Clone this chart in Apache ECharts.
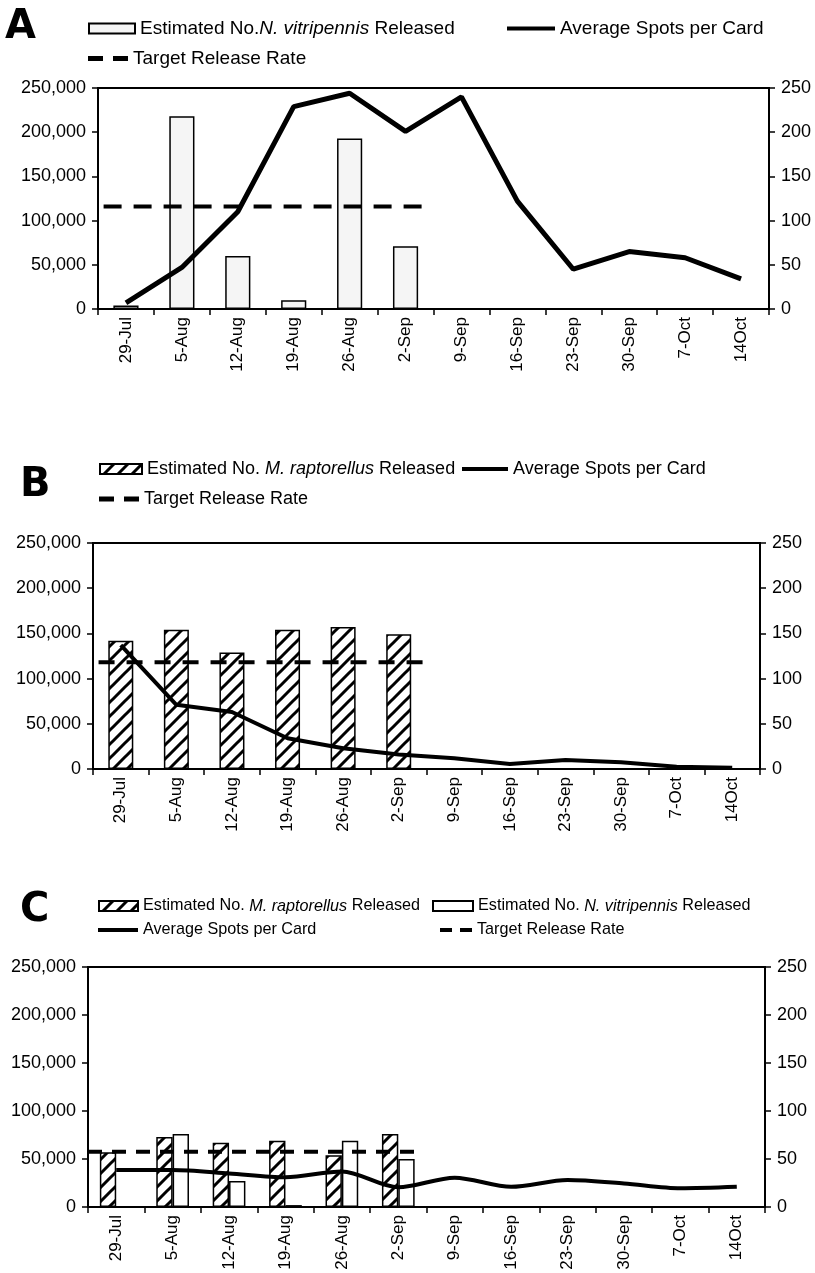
<!DOCTYPE html>
<html><head><meta charset="utf-8">
<script src="https://cdn.jsdelivr.net/npm/echarts@6/dist/echarts.min.js"></script>
<style>html,body{margin:0;padding:0;background:#fff}#c{width:815px;height:1273px}</style>
</head><body><div id="c"></div>
<script>
// ---- data ----
const categories = ['29-Jul','5-Aug','12-Aug','19-Aug','26-Aug','2-Sep','9-Sep','16-Sep','23-Sep','30-Sep','7-Oct','14Oct'];
const leftTicks = [0, 50000, 100000, 150000, 200000, 250000];
const rightTicks = [0, 50, 100, 150, 200, 250];

// Panel A
const nvReleasedA = [4000, 218000, 60000, 10000, 193000, 71000, null, null, null, null, null, null];
const spotsA = [7, 47, 110, 229, 244, 201, 240, 122, 45, 65, 58, 34];
const targetA = 116000;
const targetSpanA = [0.1, 5.9];

// Panel B
const mrReleasedB = [142000, 154000, 129000, 154000, 157000, 149000, null, null, null, null, null, null];
const spotsB = [137, 71, 63, 34, 23, 16, 12, 5.5, 10, 7.5, 2.5, 1.5];
const targetB = 118000;
const targetSpanB = [0.1, 6.1];

// Panel C
const mrReleasedC = [57000, 73000, 67000, 69000, 54000, 76000, null, null, null, null, null, null];
const nvReleasedC = [0, 76000, 27000, 2000, 69000, 50000, null, null, null, null, null, null];
const spotsC = [38.5, 38.5, 35, 31, 37, 20.5, 30.5, 21, 28, 24.5, 19.5, 21];
const targetC = 57600;
const targetSpanC = [0, 5.9];

const labels = {
  nvA: 'Estimated No.{i|N. vitripennis} Released',
  spotsA: 'Average Spots per Card',
  targetA: 'Target Release Rate',
  mrB: 'Estimated No. {i|M. raptorellus} Released',
  spotsB: 'Average Spots per Card',
  targetB: 'Target Release Rate',
  mrC: 'Estimated No. {i|M. raptorellus} Released',
  nvC: 'Estimated No. {i|N. vitripennis} Released',
  spotsC: 'Average Spots per Card',
  targetC: 'Target Release Rate'
};

// ---- styling ----
const FONT = "'Liberation Sans', Arial, sans-serif";
function hatchPattern() {
  const s = 14;
  const c = document.createElement('canvas');
  c.width = s; c.height = s;
  const g = c.getContext('2d');
  g.fillStyle = '#fff'; g.fillRect(0, 0, s, s);
  g.strokeStyle = '#000'; g.lineWidth = 3;
  g.beginPath();
  g.moveTo(-2, s + 2); g.lineTo(s + 2, -2);
  g.moveTo(-s / 2 - 2, s / 2 + 2); g.lineTo(s / 2 + 2, -s / 2 - 2);
  g.moveTo(s / 2 - 2, s * 1.5 + 2); g.lineTo(s * 1.5 + 2, s / 2 - 2);
  g.stroke();
  return { image: c, repeat: 'repeat' };
}
const HATCH = hatchPattern();

const grids = [
  { left: 98, right: 46, top: 88, height: 221 },
  { left: 93, right: 55, top: 543, height: 226 },
  { left: 88, right: 50, top: 967, height: 240 }
];
const axisFont = [18, 18, 18];
const catFont = [17, 17, 17];

const xAxis = [], yAxis = [];
grids.forEach((g, i) => {
  xAxis.push({
    type: 'category', gridIndex: i, data: categories,
    axisLine: { lineStyle: { color: '#000', width: 2 } },
    axisTick: { show: true, length: 6, lineStyle: { color: '#000', width: 1.5 } },
    axisLabel: { rotate: 90, interval: 0, fontSize: catFont[i], color: '#000', fontFamily: FONT, margin: 8 },
    splitLine: { show: false }
  });
  xAxis.push({ type: 'value', gridIndex: i, min: 0, max: categories.length, show: false });
  yAxis.push({
    type: 'value', gridIndex: i, position: 'left',
    min: leftTicks[0], max: leftTicks[leftTicks.length - 1], interval: leftTicks[1] - leftTicks[0],
    axisLine: { show: true, lineStyle: { color: '#000', width: 2 } },
    axisTick: { show: true, length: 6, lineStyle: { color: '#000', width: 1.5 } },
    axisLabel: { fontSize: axisFont[i], color: '#000', fontFamily: FONT, margin: 12,
      formatter: v => v.toLocaleString('en-US') },
    splitLine: { show: false }
  });
  yAxis.push({
    type: 'value', gridIndex: i, position: 'right',
    min: rightTicks[0], max: rightTicks[rightTicks.length - 1], interval: rightTicks[1] - rightTicks[0],
    axisLine: { show: true, lineStyle: { color: '#000', width: 2 } },
    axisTick: { show: true, length: 6, lineStyle: { color: '#000', width: 1.5 } },
    axisLabel: { fontSize: axisFont[i], color: '#000', fontFamily: FONT, margin: 12 },
    splitLine: { show: false }
  });
});

function lineSeries(name, gi, data, width, smooth) {
  return { name, type: 'line', xAxisIndex: gi * 2, yAxisIndex: gi * 2 + 1, data,
    symbol: 'none', smooth: smooth || false, z: 5,
    itemStyle: { color: '#000' }, lineStyle: { color: '#000', width } };
}
function targetSeries(name, gi, value, span, dash, width) {
  return { name, type: 'line', xAxisIndex: gi * 2 + 1, yAxisIndex: gi * 2,
    data: span.map(x => [x, value]), symbol: 'none', z: 6,
    itemStyle: { color: '#000' }, lineStyle: { color: '#000', width, type: dash } };
}
function barSeries(name, gi, data, color, width, gap) {
  return { name, type: 'bar', xAxisIndex: gi * 2, yAxisIndex: gi * 2, data,
    barWidth: width, barGap: gap || '0%', z: 2,
    itemStyle: { color, borderColor: '#000', borderWidth: 1.5 } };
}

const series = [
  barSeries('nvA', 0, nvReleasedA, '#f5f5f5', '45%'),
  lineSeries('spotsA', 0, spotsA, 5),
  targetSeries('targetA', 0, targetA, targetSpanA, [18, 12], 4),
  barSeries('mrB', 1, mrReleasedB, HATCH, '45%'),
  lineSeries('spotsB', 1, spotsB, 4),
  targetSeries('targetB', 1, targetB, targetSpanB, [16, 12], 4),
  barSeries('mrC', 2, mrReleasedC, HATCH, '29%'),
  barSeries('nvC', 2, nvReleasedC, '#ffffff', '29%'),
  lineSeries('spotsC', 2, spotsC, 4, 0.3),
  targetSeries('targetC', 2, targetC, targetSpanC, [14, 10], 4)
];

function legendText(size) {
  return { fontSize: size, color: '#000', fontFamily: FONT,
    rich: { i: { fontSize: size, fontStyle: 'italic', color: '#000', fontFamily: FONT } } };
}
function lg(name, left, top, kind, size, iw) {
  const o = { data: [name], left, top, padding: 0, selectedMode: false,
    formatter: n => labels[n], textStyle: legendText(size) };
  if (kind === 'bar') { o.icon = 'rect'; o.itemWidth = iw || 46; o.itemHeight = 10; }
  else if (kind === 'line') { o.icon = 'rect'; o.itemWidth = iw || 48; o.itemHeight = 4; }
  else { o.icon = 'path://M0,0H15V5H0Z M25,0H40V5H25Z'; o.itemWidth = iw || 40; o.itemHeight = 5; }
  return o;
}
const legend = [
  lg('nvA', 88, 19, 'bar', 19, 46), lg('spotsA', 507, 19, 'line', 19, 48), lg('targetA', 88, 49, 'dash', 19, 40),
  lg('mrB', 99, 460, 'bar', 18, 42), lg('spotsB', 462, 460, 'line', 18, 46), lg('targetB', 99, 490, 'dash', 18, 40),
  lg('mrC', 98, 898, 'bar', 16.2, 39), lg('nvC', 432, 898, 'bar', 16.2, 40), lg('spotsC', 98, 922, 'line', 16.2, 40), lg('targetC', 440, 922, 'dash', 16.2, 32)
];

const titleStyle = { fontSize: 40, fontWeight: 'bold', color: '#000', fontFamily: "'DejaVu Sans', 'Liberation Sans', sans-serif" };
const title = [
  { text: 'A', left: 5, top: 8, padding: 0, textStyle: titleStyle },
  { text: 'B', left: 20, top: 466, padding: 0, textStyle: titleStyle },
  { text: 'C', left: 20, top: 891, padding: 0, textStyle: titleStyle }
];

const chart = echarts.init(document.getElementById('c'), null, { renderer: 'canvas' });
chart.setOption({
  animation: false,
  backgroundColor: '#fff',
  title, legend,
  grid: grids.map(g => Object.assign({ show: true, borderColor: '#000', borderWidth: 2, backgroundColor: '#fff', containLabel: false }, g)),
  xAxis, yAxis, series
});
</script></body></html>
